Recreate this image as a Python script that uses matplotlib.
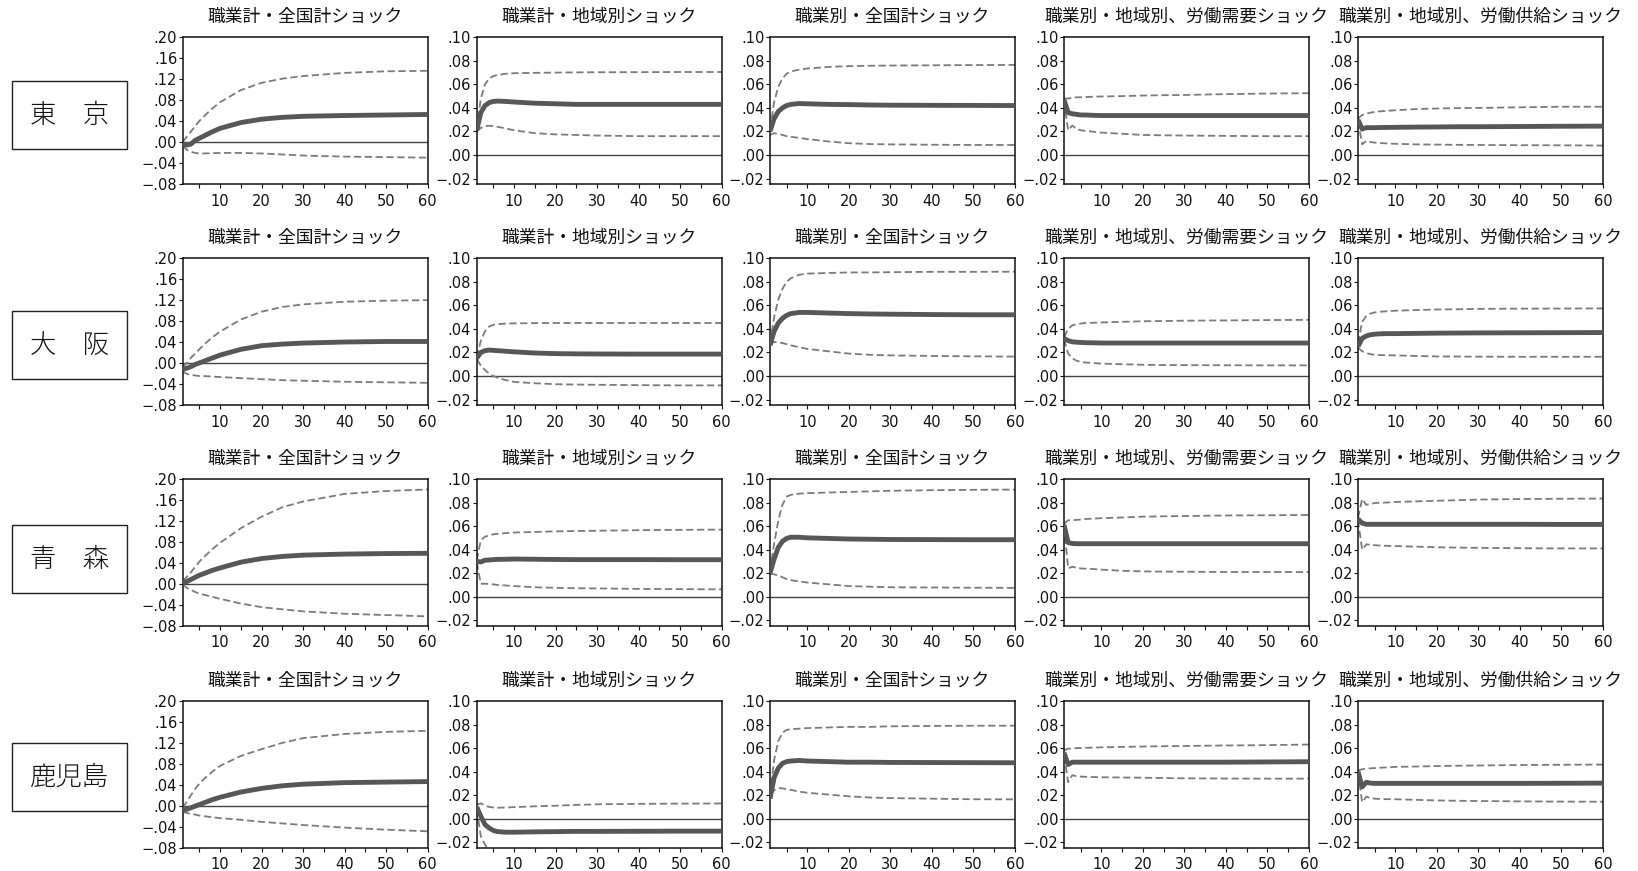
import matplotlib
matplotlib.use("Agg")
import matplotlib.pyplot as plt
from matplotlib import font_manager as fm
from matplotlib.ticker import FixedLocator, FuncFormatter
from matplotlib.patches import Rectangle

# ---------------- data ----------------
PERIODS = [1, 2, 3, 4, 5, 6, 8, 10, 15, 20, 25, 30, 40, 50, 60]

REGIONS = ['東　京', '大　阪', '青　森', '鹿児島']
TITLES = ['職業計・全国計ショック', '職業計・地域別ショック', '職業別・全国計ショック',
          '職業別・地域別、労働需要ショック', '職業別・地域別、労働供給ショック']

Y_TICKS_WIDE = [-0.08, -0.04, 0.00, 0.04, 0.08, 0.12, 0.16, 0.20]
Y_TICKS_NARROW = [-0.02, 0.00, 0.02, 0.04, 0.06, 0.08, 0.10]
X_LABEL_TICKS = [10, 20, 30, 40, 50, 60]

# 東京
TOKYO_IRF = [
    [-0.005, -0.006, -0.004, 0.003, 0.007, 0.011, 0.019, 0.026, 0.037, 0.0435, 0.047, 0.049, 0.0505, 0.0515, 0.0525],
    [0.021, 0.036, 0.042, 0.0445, 0.0455, 0.0458, 0.0455, 0.045, 0.044, 0.0435, 0.043, 0.043, 0.043, 0.043, 0.043],
    [0.020, 0.031, 0.037, 0.040, 0.042, 0.043, 0.0437, 0.0435, 0.043, 0.0428, 0.0425, 0.0423, 0.0422, 0.0421, 0.042],
    [0.047, 0.036, 0.035, 0.0345, 0.034, 0.034, 0.0337, 0.0335, 0.0335, 0.0335, 0.0335, 0.0335, 0.0335, 0.0335, 0.0335],
    [0.030, 0.022, 0.0232, 0.0232, 0.0232, 0.0233, 0.0234, 0.0235, 0.0237, 0.0238, 0.024, 0.024, 0.0242, 0.0244, 0.0245],
]
TOKYO_UP = [
    [0.000, 0.010, 0.020, 0.030, 0.040, 0.048, 0.063, 0.076, 0.099, 0.113, 0.121, 0.126, 0.132, 0.135, 0.136],
    [0.022, 0.048, 0.060, 0.065, 0.067, 0.068, 0.069, 0.0695, 0.0698, 0.070, 0.0702, 0.0703, 0.0704, 0.0705, 0.0705],
    [0.022, 0.045, 0.058, 0.065, 0.069, 0.071, 0.0725, 0.0735, 0.0748, 0.0755, 0.0758, 0.076, 0.0762, 0.0764, 0.0765],
    [0.048, 0.048, 0.0485, 0.049, 0.049, 0.0492, 0.0495, 0.0497, 0.050, 0.0505, 0.0508, 0.051, 0.0517, 0.0522, 0.0525],
    [0.031, 0.034, 0.035, 0.036, 0.0365, 0.037, 0.0375, 0.038, 0.039, 0.0395, 0.0398, 0.040, 0.0405, 0.041, 0.041],
]
TOKYO_LO = [
    [-0.008, -0.015, -0.019, -0.021, -0.022, -0.022, -0.0215, -0.021, -0.021, -0.022, -0.024, -0.026, -0.028, -0.029, -0.030],
    [0.020, 0.023, 0.0245, 0.0248, 0.0245, 0.024, 0.0225, 0.021, 0.0185, 0.0175, 0.017, 0.0165, 0.016, 0.016, 0.016],
    [0.017, 0.0185, 0.018, 0.017, 0.016, 0.0155, 0.0145, 0.0135, 0.0115, 0.010, 0.0093, 0.009, 0.0087, 0.0085, 0.0085],
    [0.046, 0.021, 0.025, 0.022, 0.021, 0.0205, 0.0198, 0.019, 0.018, 0.017, 0.0167, 0.0165, 0.0162, 0.016, 0.016],
    [0.029, 0.009, 0.012, 0.011, 0.0105, 0.0102, 0.0098, 0.0095, 0.009, 0.0088, 0.0086, 0.0085, 0.0083, 0.0082, 0.008],
]

# 大阪
OSAKA_IRF = [
    [-0.012, -0.010, -0.007, -0.003, 0.000, 0.003, 0.009, 0.015, 0.026, 0.033, 0.036, 0.038, 0.040, 0.041, 0.041],
    [0.015, 0.020, 0.0215, 0.022, 0.0218, 0.0215, 0.021, 0.0205, 0.0195, 0.019, 0.0188, 0.0187, 0.0186, 0.0186, 0.0186],
    [0.026, 0.038, 0.045, 0.049, 0.0515, 0.053, 0.054, 0.054, 0.0535, 0.053, 0.0527, 0.0525, 0.0522, 0.052, 0.052],
    [0.032, 0.030, 0.029, 0.0287, 0.0285, 0.0283, 0.0282, 0.028, 0.028, 0.028, 0.028, 0.028, 0.028, 0.028, 0.028],
    [0.025, 0.032, 0.034, 0.035, 0.0355, 0.0358, 0.036, 0.036, 0.0362, 0.0364, 0.0365, 0.0366, 0.0367, 0.0368, 0.0369],
]
OSAKA_UP = [
    [-0.008, 0.000, 0.010, 0.018, 0.026, 0.034, 0.048, 0.060, 0.083, 0.098, 0.107, 0.112, 0.117, 0.119, 0.120],
    [0.016, 0.030, 0.038, 0.042, 0.0435, 0.044, 0.0445, 0.0447, 0.0449, 0.045, 0.045, 0.045, 0.045, 0.045, 0.045],
    [0.028, 0.050, 0.065, 0.074, 0.080, 0.083, 0.086, 0.087, 0.0875, 0.088, 0.088, 0.0882, 0.0885, 0.0885, 0.0886],
    [0.033, 0.040, 0.043, 0.044, 0.0445, 0.045, 0.0452, 0.0455, 0.046, 0.0465, 0.0467, 0.047, 0.0472, 0.0475, 0.0477],
    [0.028, 0.046, 0.051, 0.053, 0.054, 0.0545, 0.055, 0.0555, 0.056, 0.0565, 0.0567, 0.057, 0.0572, 0.0573, 0.0574],
]
OSAKA_LO = [
    [-0.016, -0.021, -0.023, -0.024, -0.025, -0.025, -0.026, -0.027, -0.029, -0.031, -0.033, -0.034, -0.036, -0.037, -0.038],
    [0.014, 0.009, 0.005, 0.002, 0.000, -0.0015, -0.0035, -0.005, -0.0062, -0.007, -0.0073, -0.0075, -0.0078, -0.008, -0.008],
    [0.027, 0.029, 0.0285, 0.028, 0.027, 0.026, 0.0245, 0.023, 0.021, 0.019, 0.018, 0.0175, 0.017, 0.0167, 0.0165],
    [0.031, 0.019, 0.015, 0.013, 0.012, 0.0115, 0.011, 0.0105, 0.010, 0.0095, 0.0093, 0.0092, 0.0091, 0.009, 0.009],
    [0.024, 0.021, 0.0195, 0.0185, 0.018, 0.0178, 0.0176, 0.0175, 0.017, 0.0166, 0.0165, 0.0164, 0.0163, 0.0163, 0.0163],
]

# 青森
AOMORI_IRF = [
    [0.002, 0.004, 0.008, 0.012, 0.016, 0.019, 0.025, 0.030, 0.041, 0.048, 0.052, 0.0545, 0.0565, 0.0575, 0.058],
    [0.030, 0.0295, 0.031, 0.0312, 0.0315, 0.0317, 0.0318, 0.032, 0.0318, 0.0316, 0.0315, 0.0315, 0.0315, 0.0314, 0.0314],
    [0.020, 0.032, 0.042, 0.047, 0.0495, 0.0505, 0.0505, 0.050, 0.0495, 0.049, 0.0488, 0.0486, 0.0485, 0.0484, 0.0484],
    [0.061, 0.046, 0.0452, 0.045, 0.045, 0.045, 0.045, 0.045, 0.045, 0.045, 0.045, 0.045, 0.045, 0.045, 0.045],
    [0.066, 0.0625, 0.0615, 0.0615, 0.0615, 0.0615, 0.0615, 0.0615, 0.0615, 0.0615, 0.0615, 0.0615, 0.0615, 0.0614, 0.0614],
]
AOMORI_UP = [
    [0.005, 0.013, 0.022, 0.032, 0.042, 0.050, 0.065, 0.078, 0.106, 0.128, 0.146, 0.157, 0.1715, 0.177, 0.180],
    [0.031, 0.048, 0.051, 0.052, 0.053, 0.0535, 0.054, 0.0545, 0.055, 0.0555, 0.0558, 0.056, 0.0565, 0.0568, 0.057],
    [0.022, 0.045, 0.065, 0.078, 0.085, 0.0865, 0.0875, 0.088, 0.0885, 0.089, 0.0895, 0.090, 0.0905, 0.0908, 0.091],
    [0.062, 0.065, 0.065, 0.0652, 0.0655, 0.066, 0.0663, 0.0667, 0.0673, 0.068, 0.0683, 0.0685, 0.069, 0.0692, 0.0694],
    [0.067, 0.083, 0.078, 0.079, 0.0795, 0.0798, 0.080, 0.0805, 0.081, 0.0815, 0.082, 0.0825, 0.083, 0.0832, 0.0834],
]
AOMORI_LO = [
    [-0.002, -0.008, -0.012, -0.016, -0.019, -0.021, -0.025, -0.029, -0.038, -0.045, -0.049, -0.053, -0.0575, -0.060, -0.0625],
    [0.029, 0.011, 0.011, 0.0108, 0.0105, 0.010, 0.0095, 0.009, 0.008, 0.0075, 0.0072, 0.007, 0.0066, 0.0064, 0.0062],
    [0.0195, 0.019, 0.018, 0.0165, 0.015, 0.014, 0.013, 0.012, 0.0105, 0.009, 0.0085, 0.008, 0.0078, 0.0076, 0.0075],
    [0.060, 0.024, 0.0255, 0.0245, 0.024, 0.0238, 0.0235, 0.023, 0.022, 0.0215, 0.0213, 0.0212, 0.021, 0.021, 0.0209],
    [0.065, 0.040, 0.0445, 0.044, 0.0438, 0.0435, 0.0432, 0.043, 0.0425, 0.042, 0.0417, 0.0415, 0.0412, 0.041, 0.041],
]

# 鹿児島
KAGOSHIMA_IRF = [
    [-0.008, -0.007, -0.004, -0.001, 0.002, 0.005, 0.011, 0.016, 0.026, 0.033, 0.038, 0.041, 0.044, 0.045, 0.046],
    [0.010, 0.002, -0.005, -0.008, -0.010, -0.011, -0.0115, -0.0115, -0.0112, -0.011, -0.0108, -0.0108, -0.0107, -0.0106, -0.0106],
    [0.017, 0.035, 0.043, 0.047, 0.0485, 0.049, 0.0495, 0.049, 0.0485, 0.048, 0.048, 0.0478, 0.0477, 0.0476, 0.0475],
    [0.056, 0.046, 0.048, 0.048, 0.048, 0.048, 0.048, 0.048, 0.048, 0.048, 0.048, 0.048, 0.048, 0.0482, 0.0484],
    [0.040, 0.027, 0.031, 0.0302, 0.030, 0.030, 0.030, 0.030, 0.030, 0.030, 0.030, 0.030, 0.030, 0.0301, 0.0302],
]
KAGOSHIMA_UP = [
    [-0.004, 0.008, 0.020, 0.032, 0.042, 0.050, 0.064, 0.076, 0.095, 0.108, 0.120, 0.129, 0.137, 0.141, 0.143],
    [0.012, 0.013, 0.011, 0.010, 0.0095, 0.0093, 0.0095, 0.0098, 0.0105, 0.011, 0.0117, 0.0122, 0.0126, 0.0128, 0.0129],
    [0.020, 0.050, 0.066, 0.073, 0.0755, 0.076, 0.0765, 0.077, 0.0775, 0.078, 0.078, 0.0785, 0.0788, 0.079, 0.079],
    [0.058, 0.0595, 0.0595, 0.060, 0.060, 0.0602, 0.0604, 0.0606, 0.061, 0.0613, 0.0616, 0.0618, 0.0622, 0.0625, 0.063],
    [0.041, 0.042, 0.0425, 0.0428, 0.043, 0.0432, 0.0436, 0.044, 0.0443, 0.0447, 0.045, 0.0452, 0.0456, 0.0458, 0.046],
]
KAGOSHIMA_LO = [
    [-0.012, -0.014, -0.016, -0.017, -0.019, -0.020, -0.022, -0.024, -0.027, -0.031, -0.034, -0.037, -0.042, -0.046, -0.049],
    [0.008, -0.015, -0.022, -0.028, -0.032, -0.034, -0.035, -0.035, -0.035, -0.035, -0.035, -0.035, -0.035, -0.035, -0.035],
    [0.021, 0.024, 0.026, 0.0258, 0.025, 0.0245, 0.023, 0.022, 0.0205, 0.019, 0.018, 0.0175, 0.017, 0.0165, 0.0164],
    [0.054, 0.031, 0.037, 0.036, 0.0358, 0.0356, 0.0354, 0.0352, 0.035, 0.0348, 0.0345, 0.0343, 0.0341, 0.034, 0.034],
    [0.039, 0.014, 0.0187, 0.0175, 0.017, 0.0168, 0.0166, 0.0165, 0.016, 0.0155, 0.0152, 0.015, 0.0147, 0.0145, 0.0144],
]

IRF = [TOKYO_IRF, OSAKA_IRF, AOMORI_IRF, KAGOSHIMA_IRF]
UP = [TOKYO_UP, OSAKA_UP, AOMORI_UP, KAGOSHIMA_UP]
LO = [TOKYO_LO, OSAKA_LO, AOMORI_LO, KAGOSHIMA_LO]

# ---------------- style ----------------
available = {f.name for f in fm.fontManager.ttflist}
CJK = 'Noto Sans CJK JP'
NUM_FONT = 'Liberation Sans Narrow' if 'Liberation Sans Narrow' in available else 'DejaVu Sans'
plt.rcParams['font.family'] = [CJK, 'DejaVu Sans']

W, H = 1638, 871
fig = plt.figure(figsize=(W / 100, H / 100), dpi=100)

COL_LEFT = [182.7, 476.7, 770.0, 1064.0, 1358.0]
COL_W = 245.0
ROW_TOP = [37.3, 258.3, 479.0, 701.0]
ROW_H = 146.5
BOX_OFFSET = [43.5, 52.5, 46.0, 41.5]

SOLID_C = '#575757'
DASH_C = '#7b7b7b'


def fmt(v, pos):
    s = f"{abs(v):.2f}"
    if s.startswith('0'):
        s = s[1:]
    return ('\u2212' + s) if v < -1e-9 else s


for r in range(4):
    # region label box
    bx, bw = 12.3, 115.0
    by, bh = ROW_TOP[r] + BOX_OFFSET[r], 68.0
    fig.patches.append(Rectangle((bx / W, 1 - (by + bh) / H), bw / W, bh / H,
                                 transform=fig.transFigure, fill=False,
                                 edgecolor='#222222', linewidth=1.0))
    fig.text((bx + bw / 2) / W, 1 - (by + bh / 2) / H, REGIONS[r],
             ha='center', va='center', fontsize=19, fontweight='light',
             color='#111111')
    for c in range(5):
        ax = fig.add_axes([COL_LEFT[c] / W, 1 - (ROW_TOP[r] + ROW_H) / H,
                           COL_W / W, ROW_H / H])
        ax.plot(PERIODS, UP[r][c], color=DASH_C, lw=1.3, ls=(0, (4, 2)), zorder=2)
        ax.plot(PERIODS, LO[r][c], color=DASH_C, lw=1.3, ls=(0, (4, 2)), zorder=2)
        ax.axhline(0, color='#444444', lw=1.0, zorder=1)
        ax.plot(PERIODS, IRF[r][c], color=SOLID_C, lw=3.5, zorder=3,
                solid_capstyle='butt')
        ax.set_xlim(1, 60)
        if c == 0:
            ax.set_ylim(-0.08, 0.20)
            ax.set_yticks(Y_TICKS_WIDE)
        else:
            ax.set_ylim(-0.0245, 0.10)
            ax.set_yticks(Y_TICKS_NARROW)
        ax.yaxis.set_major_formatter(FuncFormatter(fmt))
        ax.set_xticks(X_LABEL_TICKS)
        ax.xaxis.set_minor_locator(FixedLocator([5, 15, 25, 35, 45, 55]))
        ax.tick_params(axis='both', which='both', direction='out', length=3,
                       width=0.8, colors='#111111', labelsize=10.5)
        ax.tick_params(axis='y', pad=1)
        ax.tick_params(axis='x', pad=4)
        for lab in ax.get_xticklabels() + ax.get_yticklabels():
            lab.set_fontfamily(NUM_FONT)
        for sp in ax.spines.values():
            sp.set_linewidth(1.1)
            sp.set_color('#111111')
        ax.set_title(TITLES[c], fontsize=12.8, pad=11, color='#111111')

fig.savefig('out.png', dpi=100)
